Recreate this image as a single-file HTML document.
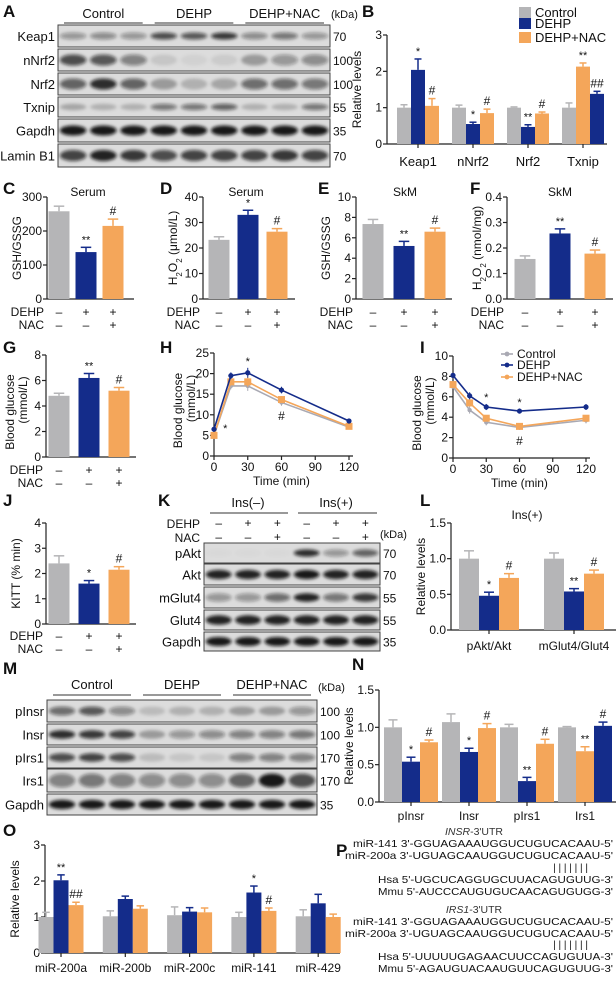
<!DOCTYPE html>
<html><head><meta charset="utf-8"><style>
html,body{margin:0;padding:0;background:#fff;}
svg{display:block;font-family:"Liberation Sans",Arial,sans-serif;}
</style></head><body>
<svg id="fig" width="616" height="986" viewBox="0 0 616 986" xmlns="http://www.w3.org/2000/svg">
<defs><filter id="blur" x="-20%" y="-50%" width="140%" height="200%"><feGaussianBlur stdDeviation="1.6"/></filter></defs>
</svg>
<script>
// ---------- DATA ----------
const groupNames = ['Control','DEHP','DEHP+NAC'];
const bCats = ['Keap1','nNrf2','Nrf2','Txnip'];
const bControl = [1.0,1.0,1.0,1.0];
const bDEHP = [2.04,0.55,0.47,1.38];
const bNAC = [1.05,0.85,0.84,2.13];
const bErrC = [0.08,0.07,0.02,0.13];
const bErrD = [0.3,0.05,0.06,0.07];
const bErrN = [0.2,0.11,0.04,0.1];
const cVals = [258,138,215]; const cErr = [15,14,20];
const dVals = [23.2,33,26.4]; const dErr = [1.2,1.8,1.2];
const eVals = [7.35,5.2,6.6]; const eErr = [0.45,0.45,0.35];
const fVals = [0.157,0.257,0.178]; const fErr = [0.012,0.018,0.014];
const gVals = [4.8,6.2,5.2]; const gErr = [0.2,0.35,0.25];
const jVals = [2.4,1.6,2.15]; const jErr = [0.3,0.12,0.12];
const timePts = [0,15,30,60,120];
const hControl = [5.0,17.0,17.0,13.0,7.0];
const hDEHP = [6.5,19.5,20.2,16.0,8.5];
const hNAC = [5.0,18.0,18.0,13.7,7.2];
const iControl = [7.0,4.7,3.5,3.0,3.7];
const iDEHP = [8.1,6.1,5.0,4.6,5.0];
const iNAC = [7.2,5.4,3.9,3.1,3.9];
const lCats = ['pAkt/Akt','mGlut4/Glut4'];
const lControl = [1.0,1.0]; const lDEHP = [0.48,0.54]; const lNAC = [0.73,0.79];
const lErrC = [0.11,0.08]; const lErrD = [0.05,0.04]; const lErrN = [0.06,0.05];
const nCats = ['pInsr','Insr','pIrs1','Irs1'];
const nControl = [1.0,1.07,1.0,1.0]; const nDEHP = [0.54,0.67,0.28,1.02]; const nNAC = [0.8,0.99,0.78,0.68];
const nErrC = [0.1,0.11,0.04,0.01]; const nErrD = [0.06,0.05,0.05,0.05]; const nErrN = [0.03,0.06,0.06,0.06];
const oCats = ['miR-200a','miR-200b','miR-200c','miR-141','miR-429'];
const oControl = [1.0,1.02,1.05,1.0,1.02]; const oDEHP = [2.02,1.5,1.15,1.68,1.38]; const oNAC = [1.33,1.23,1.13,1.17,1.0];
const oErrC = [0.13,0.15,0.23,0.13,0.18]; const oErrD = [0.15,0.08,0.11,0.18,0.25]; const oErrN = [0.08,0.08,0.12,0.08,0.08];

const GRAY='#b5b5b7', BLUE='#142c8a', ORANGE='#f4a65a';
const svg=document.getElementById('fig');
const NS='http://www.w3.org/2000/svg';
function mk(tag,attrs,parent){const e=document.createElementNS(NS,tag);for(const k in attrs)e.setAttribute(k,attrs[k]);(parent||svg).appendChild(e);return e;}
function txt(x,y,s,size,anchor,parent,extra){const t=mk('text',Object.assign({x:x,y:y,'font-size':size,'text-anchor':anchor||'start',fill:'#111'},extra||{}),parent);t.textContent=s;return t;}
function grp(name){const g=mk('g',{});return g;}

function panelLabel(l,x,y){const t=txt(x,y,l,17,'start',svg,{'font-weight':'bold'});}

function axes(g,ax,y0,ytop,xend,ticks,tickFmt,ymax,title,tfs){
  mk('line',{x1:ax,y1:y0,x2:ax,y2:ytop,stroke:'#222','stroke-width':1.2},g);
  mk('line',{x1:ax,y1:y0,x2:xend,y2:y0,stroke:'#222','stroke-width':1.2},g);
  const ys=v=>y0-(y0-ytop)*v/ymax;
  ticks.forEach((v,i)=>{const y=ys(v);mk('line',{x1:ax-4,y1:y,x2:ax,y2:y,stroke:'#222','stroke-width':1.2},g);
    const t=txt(ax-5,y+4,tickFmt[i],12,'end',g);});
  if(title){const cy=(y0+ytop)/2;const t=mk('text',{x:0,y:0,'font-size':tfs||12,'text-anchor':'middle',fill:'#111',transform:`translate(${ax-26},${cy}) rotate(-90)`},g);t.innerHTML=title;}
  return ys;
}
function bar(g,cx,w,val,err,ys,y0,color,name){
  const r=mk('rect',{x:cx-w/2,y:ys(val),width:w,height:y0-ys(val),fill:color},g);
  
  const ye=ys(val+err);
  mk('line',{x1:cx,y1:ys(val),x2:cx,y2:ye,stroke:color,'stroke-width':1.5},g);
  mk('line',{x1:cx-w/4,y1:ye,x2:cx+w/4,y2:ye,stroke:color,'stroke-width':1.5},g);
  return ye;
}
function star(g,cx,y,s){const t=txt(cx,y,s,s[0]=='#'?12:11,'middle',g);}
function signs(g,ax,centers,yD,yN){
  const a=txt(ax-3,yD,'DEHP',12,'end',g);
  const b=txt(ax-3,yN,'NAC',12,'end',g);
  const D=['–','+','+'],N=['–','–','+'];
  centers.forEach((c,i)=>{txt(c,yD,D[i],12,'middle',g);txt(c,yN,N[i],12,'middle',g);});
}

function simpleBar(name,ax,y0,ytop,xend,ymax,ticks,fmt,title,vals,errs,first,step,w,marks,yD,yN,tfs){
  const g=grp(name);
  const ys=axes(g,ax,y0,ytop,xend,ticks,fmt,ymax,title,tfs);
  const cols=[GRAY,BLUE,ORANGE];const centers=[];
  vals.forEach((v,i)=>{const cx=first+i*step;centers.push(cx);const ye=bar(g,cx,w,v,errs[i],ys,y0,cols[i],'bar-'+groupNames[i].toLowerCase().replace('+','-'));
    if(marks[i])star(g,cx,ye-4,marks[i]);});
  signs(g,ax,centers,yD,yN);
}
function groupBar(name,ax,y0,ytop,xend,ymax,ticks,fmt,title,cats,series,errs,colors,first,step,w,marks,labY,labSize,swapCats){
  const g=grp(name);swapCats=swapCats||[];
  const ys=axes(g,ax,y0,ytop,xend,ticks,fmt,ymax,title);
  cats.forEach((c,ci)=>{const gc=first+ci*step;const sw=swapCats.indexOf(ci)>=0;
    series.forEach((s,si)=>{let pos=si;if(sw&&si>0)pos=3-si;const cx=gc+(pos-1)*w;const ye=bar(g,cx,w,s[ci],errs[si][ci],ys,y0,colors[si],'bar-'+c.toLowerCase().replace('/','-')+'-'+si);
      const m=marks[si]&&marks[si][ci];if(m)star(g,cx,ye-4,m);});
    mk('line',{x1:gc,y1:y0,x2:gc,y2:y0+4,stroke:'#222','stroke-width':1.2},g);
    const t=txt(gc,labY,c,labSize||12,'middle',g);});
}

// ---------- BLOTS ----------
function blot(name,x,y,w,h,label,kda,ints,thick,lanes){
  const g=grp(name);lanes=lanes||9;
  mk('rect',{x:x,y:y,width:w,height:h,fill:'#dcdcdc',stroke:'#444','stroke-width':1},g);
  const lw=w/lanes;
  ints.forEach((v,i)=>{mk('ellipse',{cx:x+lw*(i+0.5),cy:y+h*0.5,rx:lw*0.44,ry:h*(thick||0.18),fill:'#111','fill-opacity':v,filter:'url(#blur)'},g);});
  const t=txt(x-3,y+h/2+5,label,13,'end',g);
  const k=txt(x+w+3,y+h/2+5,kda,12,'start',g);
}
function header(x1,x2,y,ylab,names){const g=grp('group-header');const lw=(x2-x1)/3;
  names.forEach((n,i)=>{mk('line',{x1:x1+lw*i+6,y1:y,x2:x1+lw*(i+1)-6,y2:y,stroke:'#333','stroke-width':1},g);txt(x1+lw*(i+0.5),ylab,n,13,'middle',g);});}

// Panel A
panelLabel('A',3,17);
header(58,330,23,18,groupNames);
txt(331,18,'(kDa)',11,'start');
blot('blot-keap1',58,25,272,22,'Keap1','70',[0.35,0.4,0.35,0.7,0.65,0.8,0.4,0.5,0.35],0.16);
blot('blot-nnrf2',58,49,272,22,'nNrf2','100',[0.7,0.65,0.45,0.1,0.05,0.08,0.3,0.35,0.4],0.25);
blot('blot-nrf2',58,73,272,22,'Nrf2','100',[0.6,0.85,0.6,0.3,0.2,0.25,0.55,0.55,0.5],0.25);
blot('blot-txnip',58,97,272,20,'Txnip','55',[0.25,0.2,0.2,0.5,0.5,0.6,0.2,0.2,0.5],0.16);
blot('blot-gapdh-a',58,119,272,23,'Gapdh','35',[0.95,0.95,0.95,0.95,0.95,0.95,0.95,0.95,0.95],0.22);
blot('blot-laminb1',58,144,272,23,'Lamin B1','70',[0.75,0.9,0.8,0.7,0.75,0.75,0.75,0.8,0.75],0.24);

// Panel B
panelLabel('B',362,17);
groupBar('chart-b',387,144,35,607,3,[0,1,2,3],['0','1','2','3'],'Relative levels',bCats,[bControl,bDEHP,bNAC],[bErrC,bErrD,bErrN],[GRAY,BLUE,ORANGE],418,55,14,[[],['*','*','**','##'],['#','#','#','**']],166,13,[3]);
(function(){const lg=grp('legend-b');const items=[[GRAY,'Control',16],[BLUE,'DEHP',27],[ORANGE,'DEHP+NAC',41]];
 items.forEach(it=>{mk('rect',{x:519,y:it[2]-9,width:12,height:11,fill:it[0]},lg);const t=txt(535,it[2]+1,it[1],13,'start',lg);});})();

// Row C-F
panelLabel('C',3,194);panelLabel('D',160,194);panelLabel('E',318,194);panelLabel('F',470,194);
txt(88,196,'Serum',12,'middle');txt(246,196,'Serum',12,'middle');txt(405,196,'SkM',12,'middle');txt(560,196,'SkM',12,'middle');
simpleBar('chart-c',47,299,197,134,300,[0,100,200,300],['0','100','200','300'],'GSH/GSSG',cVals,cErr,59,27,21,[null,'**','#'],316,329);
simpleBar('chart-d',203,299,197,295,40,[0,10,20,30,40],['0','10','20','30','40'],'H<tspan baseline-shift="sub" font-size="8">2</tspan>O<tspan baseline-shift="sub" font-size="8">2</tspan> (μmol/L)',dVals,dErr,219,29,21,[null,'*','#'],316,329);
simpleBar('chart-e',356,299,197,452,10,[0,2,4,6,8,10],['0','2','4','6','8','10'],'GSH/GSSG',eVals,eErr,373,31,21,[null,'**','#'],316,329);
simpleBar('chart-f',507,299,197,613,0.4,[0,0.1,0.2,0.3,0.4],['0.0','0.1','0.2','0.3','0.4'],'H<tspan baseline-shift="sub" font-size="8">2</tspan>O<tspan baseline-shift="sub" font-size="8">2</tspan> (nmol/mg)',fVals,fErr,525,35,21,[null,'**','#'],316,329);

// Row G-I
panelLabel('G',3,353);panelLabel('H',160,353);panelLabel('I',420,353);
simpleBar('chart-g',46,457,355,136,8,[0,2,4,6,8],['0','2','4','6','8'],'<tspan x="-6" dy="-6">Blood glucose</tspan><tspan x="6" dy="13">(mmol/L)</tspan>',gVals,gErr,59,30,21,[null,'**','#'],474,487);

function lineChart(name,ax,y0,ytop,x120,ymax,ticks,fmt,series,errs,marks,legend){
  const g=grp(name);
  const ys=axes(g,ax,y0,ytop,x120+4,ticks,fmt,ymax,'<tspan x="-6" dy="-6">Blood glucose</tspan><tspan x="6" dy="13">(mmol/L)</tspan>');
  const xs=t=>ax+(x120-ax)*t/120;
  [0,30,60,90,120].forEach(t=>{mk('line',{x1:xs(t),y1:y0,x2:xs(t),y2:y0+4,stroke:'#222','stroke-width':1.2},g);const l=txt(xs(t),y0+15,String(t),12,'middle',g);});
  const tl=txt((ax+x120)/2,y0+29,'Time (min)',12,'middle',g);
  const cols=['#a9a9b3',BLUE,ORANGE];const order=[0,2,1];
  order.forEach(si=>{const s=series[si];const pts=timePts.map((t,i)=>xs(t)+','+ys(s[i])).join(' ');
    const pl=mk('polyline',{points:pts,fill:'none',stroke:cols[si],'stroke-width':1.6},g);
    
    timePts.forEach((t,i)=>{const cx=xs(t),cy=ys(s[i]);const e=errs[i];
      mk('line',{x1:cx,y1:ys(s[i]-e),x2:cx,y2:ys(s[i]+e),stroke:cols[si],'stroke-width':1},g);
      const m=si==2?mk('rect',{x:cx-3.5,y:cy-3.5,width:7,height:7,fill:cols[si]},g):mk('circle',{cx:cx,cy:cy,r:si==1?2.6:2.2,fill:cols[si]},g);
      });});
  marks.forEach(m=>star(g,xs(m[0]),m[1],m[2]));
  if(legend){const lg=grp('legend-i');[[cols[0],'Control',358],[cols[1],'DEHP',369],[cols[2],'DEHP+NAC',381]].forEach(it=>{
    mk('line',{x1:501,y1:it[2]-4,x2:513,y2:it[2]-4,stroke:it[0],'stroke-width':1.6},lg);mk('circle',{cx:507,cy:it[2]-4,r:2.4,fill:it[0]},lg);
    const t=txt(517,it[2],it[1],12,'start',lg);});}
}
lineChart('chart-h',214,456,353,349,25,[0,5,10,15,20,25],['0','5','10','15','20','25'],[hControl,hDEHP,hNAC],[0.4,0.8,1.2,0.8,0.4],[[10,432,'*'],[30,365,'*'],[60,420,'#']],false);
lineChart('chart-i',453,458,356,586,10,[0,2,4,6,8,10],['0','2','4','6','8','10'],[iControl,iDEHP,iNAC],[0.2,0.35,0.3,0.25,0.3],[[30,401,'*'],[60,406,'*'],[60,445,'#']],true);

// Row J-L
panelLabel('J',3,506);panelLabel('K',158,506);panelLabel('L',420,506);
simpleBar('chart-j',46,624,523,136,4,[0,1,2,3,4],['0','1','2','3','4'],'KITT (% min)',jVals,jErr,59,30,21,[null,'*','#'],640,653);
(function(){const g=grp('k-header');
 mk('line',{x1:210,y1:513,x2:288,y2:513,stroke:'#333'},g);mk('line',{x1:298,y1:513,x2:377,y2:513,stroke:'#333'},g);
 txt(248,507,'Ins(–)',13,'middle',g);txt(336,507,'Ins(+)',13,'middle',g);
 txt(200,528,'DEHP',12,'end',g);txt(200,542,'NAC',12,'end',g);txt(380,538,'(kDa)',11,'start',g);
 const D=['–','+','+','–','+','+'],N=['–','–','+','–','–','+'];
 for(let i=0;i<6;i++){txt(204+176/6*(i+0.5),527,D[i],12,'middle',g);txt(204+176/6*(i+0.5),541,N[i],12,'middle',g);}})();
blot('blot-pakt',204,543,176,20,'pAkt','70',[0.02,0.02,0.02,0.85,0.35,0.6],0.18,6);
blot('blot-akt',204,564,176,21,'Akt','70',[0.9,0.9,0.9,0.95,0.9,0.9],0.22,6);
blot('blot-mglut4',204,587,176,21,'mGlut4','55',[0.35,0.35,0.55,0.9,0.5,0.8],0.2,6);
blot('blot-glut4',204,610,176,20,'Glut4','55',[0.9,0.9,0.9,0.9,0.9,0.9],0.24,6);
blot('blot-gapdh-k',204,632,176,19,'Gapdh','35',[0.95,0.95,0.95,0.95,0.95,0.95],0.24,6);
txt(527,519,'Ins(+)',12,'middle');
groupBar('chart-l',451,630,523,616,1.5,[0,0.5,1,1.5],['0.0','0.5','1.0','1.5'],'Relative levels',lCats,[lControl,lDEHP,lNAC],[lErrC,lErrD,lErrN],[GRAY,BLUE,ORANGE],489,85,20,[[],['*','**'],['#','#']],650,12);

// Row M-N
panelLabel('M',3,674);panelLabel('N',352,670);
header(47,317,695,689,groupNames);
txt(318,691,'(kDa)',11,'start');
blot('blot-pinsr',47,700,270,22,'pInsr','100',[0.55,0.65,0.4,0.15,0.2,0.2,0.3,0.3,0.35],0.2);
blot('blot-insr',47,724,270,21,'Insr','100',[0.85,0.8,0.75,0.3,0.35,0.4,0.45,0.45,0.5],0.2);
blot('blot-pirs1',47,747,270,21,'pIrs1','170',[0.7,0.75,0.7,0.15,0.1,0.1,0.45,0.45,0.45],0.2);
blot('blot-irs1',47,769,270,23,'Irs1','170',[0.45,0.5,0.45,0.4,0.4,0.4,0.6,0.95,0.7],0.3);
blot('blot-gapdh-m',47,794,270,21,'Gapdh','35',[0.95,0.95,0.95,0.95,0.95,0.95,0.95,0.95,0.95],0.22);
groupBar('chart-n',379,802,690,616,1.5,[0,0.5,1,1.5],['0.0','0.5','1.0','1.5'],'Relative levels',nCats,[nControl,nDEHP,nNAC],[nErrC,nErrD,nErrN],[GRAY,BLUE,ORANGE],411,58,18,[[],['*','*','**','#'],['#','#','#','**']],820,12,[3]);

// Row O-P
panelLabel('O',3,836);panelLabel('P',336,856);
groupBar('chart-o',45,953,845,340,3,[0,1,2,3],['0','1','2','3'],'Relative levels',oCats,[oControl,oDEHP,oNAC],[oErrC,oErrD,oErrN],[GRAY,BLUE,ORANGE],61,64.3,15,[[],['**','','','*',''],['##','','','#','']],972,12);
(function(){const g=grp('panel-p-sequences');
 const L=[[835,'<tspan font-style="italic">INSR</tspan>-3\'UTR',1],[847,'miR-141 3\'-GGUAGAAAUGGUCUGUCACAAU-5\''],[859,'miR-200a 3\'-UGUAGCAAUGGUCUGUCACAAU-5\''],[871,'| | | | | | |',2],[883,'Hsa 5\'-UGCUCAGGUGCUUACAGUGUUG-3\''],[895,'Mmu 5\'-AUCCCAUGUGUCAACAGUGUGG-3\''],
 [913,'<tspan font-style="italic">IRS1</tspan>-3\'UTR',1],[925,'miR-141 3\'-GGUAGAAAUGGUCUGUCACAAU-5\''],[937,'miR-200a 3\'-UGUAGCAAUGGUCUGUCACAAU-5\''],[948,'| | | | | | |',2],[960,'Hsa 5\'-UUUUUGAGAACUUCCAGUGUUA-3\''],[972,'Mmu 5\'-AGAUGUACAAUGUUCAGUGUUG-3\'']];
 L.forEach(l=>{let t;if(l[2]==1){t=mk('text',{x:474,y:l[0],'font-size':10.5,'text-anchor':'middle',fill:'#333'},g);t.innerHTML=l[1];}
  else if(l[2]==2){t=txt(588,l[0],l[1],10,'end',g);}
  else t=txt(613,l[0],l[1],10.5,'end',g,{textLength:l[1].startsWith('miR-200a')?268:(l[1].startsWith('miR-141')?260:235),lengthAdjust:'spacingAndGlyphs'});
  });})();
</script>
</body></html>
